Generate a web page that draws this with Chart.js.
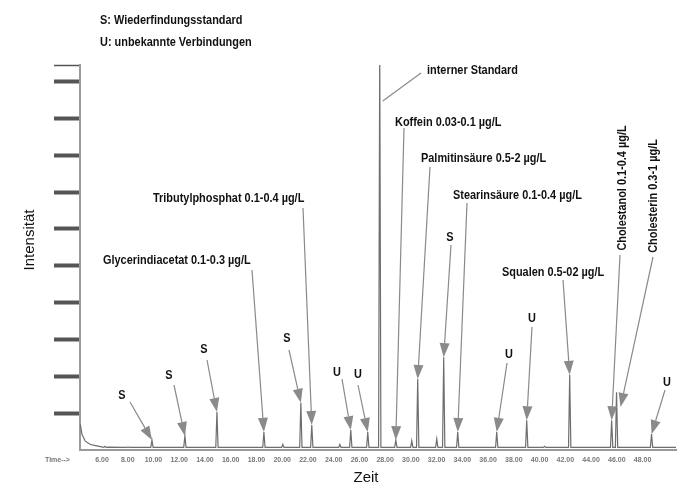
<!DOCTYPE html>
<html>
<head>
<meta charset="utf-8">
<script src="https://cdn.jsdelivr.net/npm/chart.js@4.4.1/dist/chart.umd.min.js"></script>
<style>
    body { margin: 0; background: #fff; }
    #wrap { width: 678px; height: 486px; }
</style>
</head>
<body>
<div id="wrap"><canvas id="chromChart"></canvas></div>
<script>
// Retention times (min) and heights of the peaks
const peakTimes = [6.23, 8.02, 9.88, 12.44, 14.93, 18.58, 20.05, 21.45, 22.30, 24.48,
    25.33, 26.65, 27.58, 28.83, 30.07, 30.53, 32.01, 32.55, 33.64, 36.67,
    39.00, 40.39, 42.34, 45.60, 45.98, 48.70];
const peakHeights = [0.10, 0.08, 0.27, 0.38, 1.03, 0.49, 0.15, 1.28, 0.68, 0.15,
    0.54, 0.49, 10.9, 0.27, 0.25, 1.93, 0.30, 2.52, 0.49, 0.49,
    0.81, 0.10, 2.04, 0.81, 1.57, 0.43];

// Solvent tail at the start, then the flat baseline
const baseTimes = [4.31, 4.45, 4.7, 5.1, 5.6, 6.5, 7.5, 50.6];
const baseLevels = [0.70, 0.42, 0.24, 0.15, 0.11, 0.08, 0.07, 0.07];
const baseLevel = 0.07;

const xTickLabels = [6, 8, 10, 12, 14, 16, 18, 20, 22, 24, 26, 28, 30, 32, 34, 36, 38, 40, 42, 44, 46, 48];

const peakHalfWidth = 0.09;

const points = baseTimes.map((t, i) => ({ x: t, y: baseLevels[i] }));
peakTimes.forEach((t, i) => {
    points.push({ x: t - peakHalfWidth, y: baseLevel });
    points.push({ x: t, y: peakHeights[i] });
    points.push({ x: t + peakHalfWidth, y: baseLevel });
});
points.sort((a, b) => a.x - b.x);

// Annotations: text position and arrow start in pixels, arrow tip on a peak
const notes = [
    { text: 'S', x: 122, y: 395, center: true, from: [130, 402], peak: 2 },
    { text: 'S', x: 169, y: 375, center: true, from: [174, 385], peak: 3 },
    { text: 'S', x: 204, y: 349, center: true, from: [207, 360], peak: 4 },
    { text: 'S', x: 287, y: 338, center: true, from: [289, 350], peak: 7 },
    { text: 'U', x: 337, y: 372, center: true, from: [342, 379], peak: 10 },
    { text: 'U', x: 358, y: 374, center: true, from: [358, 385], peak: 11 },
    { text: 'Glycerindiacetat 0.1-0.3 µg/L', x: 103, y: 260, from: [252, 270], peak: 5 },
    { text: 'Tributylphosphat 0.1-0.4 µg/L', x: 153, y: 198, from: [303, 208], peak: 8 },
    { text: 'interner Standard', x: 427, y: 70, from: [421, 73], peak: 12, dx: 3, tipY: 101, noHead: true },
    { text: 'Koffein 0.03-0.1 µg/L', x: 395, y: 122, from: [404, 128], peak: 13 },
    { text: 'Palmitinsäure 0.5-2 µg/L', x: 421, y: 158, from: [430, 167], peak: 15 },
    { text: 'S', x: 450, y: 237, center: true, from: [451, 245], peak: 17 },
    { text: 'Stearinsäure 0.1-0.4 µg/L', x: 453, y: 195, from: [467, 203], peak: 18 },
    { text: 'U', x: 509, y: 354, center: true, from: [507, 363], peak: 19 },
    { text: 'U', x: 532, y: 318, center: true, from: [532, 327], peak: 20 },
    { text: 'Squalen 0.5-02 µg/L', x: 502, y: 272, from: [563, 280], peak: 22 },
    { text: 'Cholestanol 0.1-0.4 µg/L', x: 622, y: 188, rotate: true, from: [620, 255], peak: 23 },
    { text: 'Cholesterin 0.3-1 µg/L', x: 653, y: 196, rotate: true, from: [653, 257], peak: 24, dx: 4, tipY: 407 },
    { text: 'U', x: 667, y: 382, center: true, from: [665, 390], peak: 25 }
];

const legendLines = ['S: Wiederfindungsstandard', 'U: unbekannte Verbindungen'];

const labelFont = "bold 13px 'Liberation Sans', Arial, sans-serif";
const narrow = 0.84; // the picture uses a condensed face

function narrowText(ctx, text, x, y, align, rotate) {
    ctx.save();
    ctx.translate(x, y);
    if (rotate) ctx.rotate(-Math.PI / 2);
    ctx.scale(narrow, 1);
    ctx.textAlign = align;
    ctx.fillText(text, 0, 0);
    ctx.restore();
}

const notesPlugin = {
    id: 'notes',
    afterDraw(chart) {
        const ctx = chart.ctx;
        const xs = chart.scales.x, ys = chart.scales.y;
        ctx.save();

        // arrows
        ctx.strokeStyle = '#8a8a8a';
        ctx.fillStyle = '#8a8a8a';
        ctx.lineWidth = 1.2;
        notes.forEach(n => {
            const tx = xs.getPixelForValue(peakTimes[n.peak]) + (n.dx || 0);
            const ty = n.tipY != null ? n.tipY : ys.getPixelForValue(peakHeights[n.peak]);
            const [sx, sy] = n.from;
            const ang = Math.atan2(ty - sy, tx - sx);
            const headLen = n.noHead ? 0 : 14;
            const bx = tx - headLen * Math.cos(ang), by = ty - headLen * Math.sin(ang);
            ctx.beginPath();
            ctx.moveTo(sx, sy);
            ctx.lineTo(bx, by);
            ctx.stroke();
            if (!n.noHead) {
                ctx.beginPath();
                ctx.moveTo(tx, ty);
                ctx.lineTo(bx + 5 * Math.sin(ang), by - 5 * Math.cos(ang));
                ctx.lineTo(bx - 5 * Math.sin(ang), by + 5 * Math.cos(ang));
                ctx.closePath();
                ctx.fill();
            }
        });

        // texts
        ctx.fillStyle = '#111';
        ctx.font = labelFont;
        ctx.textBaseline = 'middle';
        notes.forEach(n => {
            narrowText(ctx, n.text, n.x, n.y, n.rotate || n.center ? 'center' : 'left', n.rotate);
        });
        legendLines.forEach((t, i) => narrowText(ctx, t, 100, 20 + i * 22, 'left', false));

        // axis titles
        ctx.font = "15px 'Liberation Sans', Arial, sans-serif";
        ctx.textAlign = 'center';
        ctx.fillText('Zeit', 366, 478);
        ctx.save();
        ctx.translate(30, 240);
        ctx.rotate(-Math.PI / 2);
        ctx.fillText('Intensität', 0, 0);
        ctx.restore();

        ctx.fillStyle = '#777';
        ctx.font = "bold 7px 'Liberation Sans', Arial, sans-serif";
        ctx.textAlign = 'left';
        ctx.fillText('Time-->', 45, 460);
        ctx.restore();
    }
};

new Chart(document.getElementById('chromChart'), {
    type: 'line',
    data: {
        datasets: [{
            data: points,
            borderColor: '#6e6e6e',
            borderWidth: 1.2,
            pointRadius: 0,
            tension: 0
        }]
    },
    options: {
        responsive: true,
        maintainAspectRatio: false,
        animation: false,
        layout: { padding: { left: 18, top: 65, right: 2, bottom: 0 } },
        plugins: {
            legend: { display: false },
            tooltip: { enabled: false }
        },
        scales: {
            x: {
                type: 'linear',
                min: 4.29,
                max: 50.6,
                afterBuildTicks: scale => { scale.ticks = xTickLabels.map(v => ({ value: v })); },
                afterFit: scale => { scale.height = 36; },
                grid: { display: false, drawTicks: false },
                border: { color: '#9a9a9a', width: 2 },
                ticks: {
                    padding: 6,
                    color: '#777',
                    font: { size: 7, weight: 'bold', family: "'Liberation Sans', Arial, sans-serif" },
                    callback: v => v.toFixed(2)
                }
            },
            y: {
                min: 0,
                max: 10.45,
                afterFit: scale => { scale.width = 62; },
                ticks: { display: false, stepSize: 1 },
                grid: {
                    drawOnChartArea: false,
                    drawTicks: true,
                    tickLength: 26,
                    tickWidth: c => (c.tick && c.tick.value > 10 ? 1.5 : 4),
                    tickColor: c => (c.tick && c.tick.value === 0 ? 'rgba(0,0,0,0)' : '#555')
                },
                border: { color: '#9a9a9a', width: 2 }
            }
        }
    },
    plugins: [notesPlugin]
});
</script>
</body>
</html>
